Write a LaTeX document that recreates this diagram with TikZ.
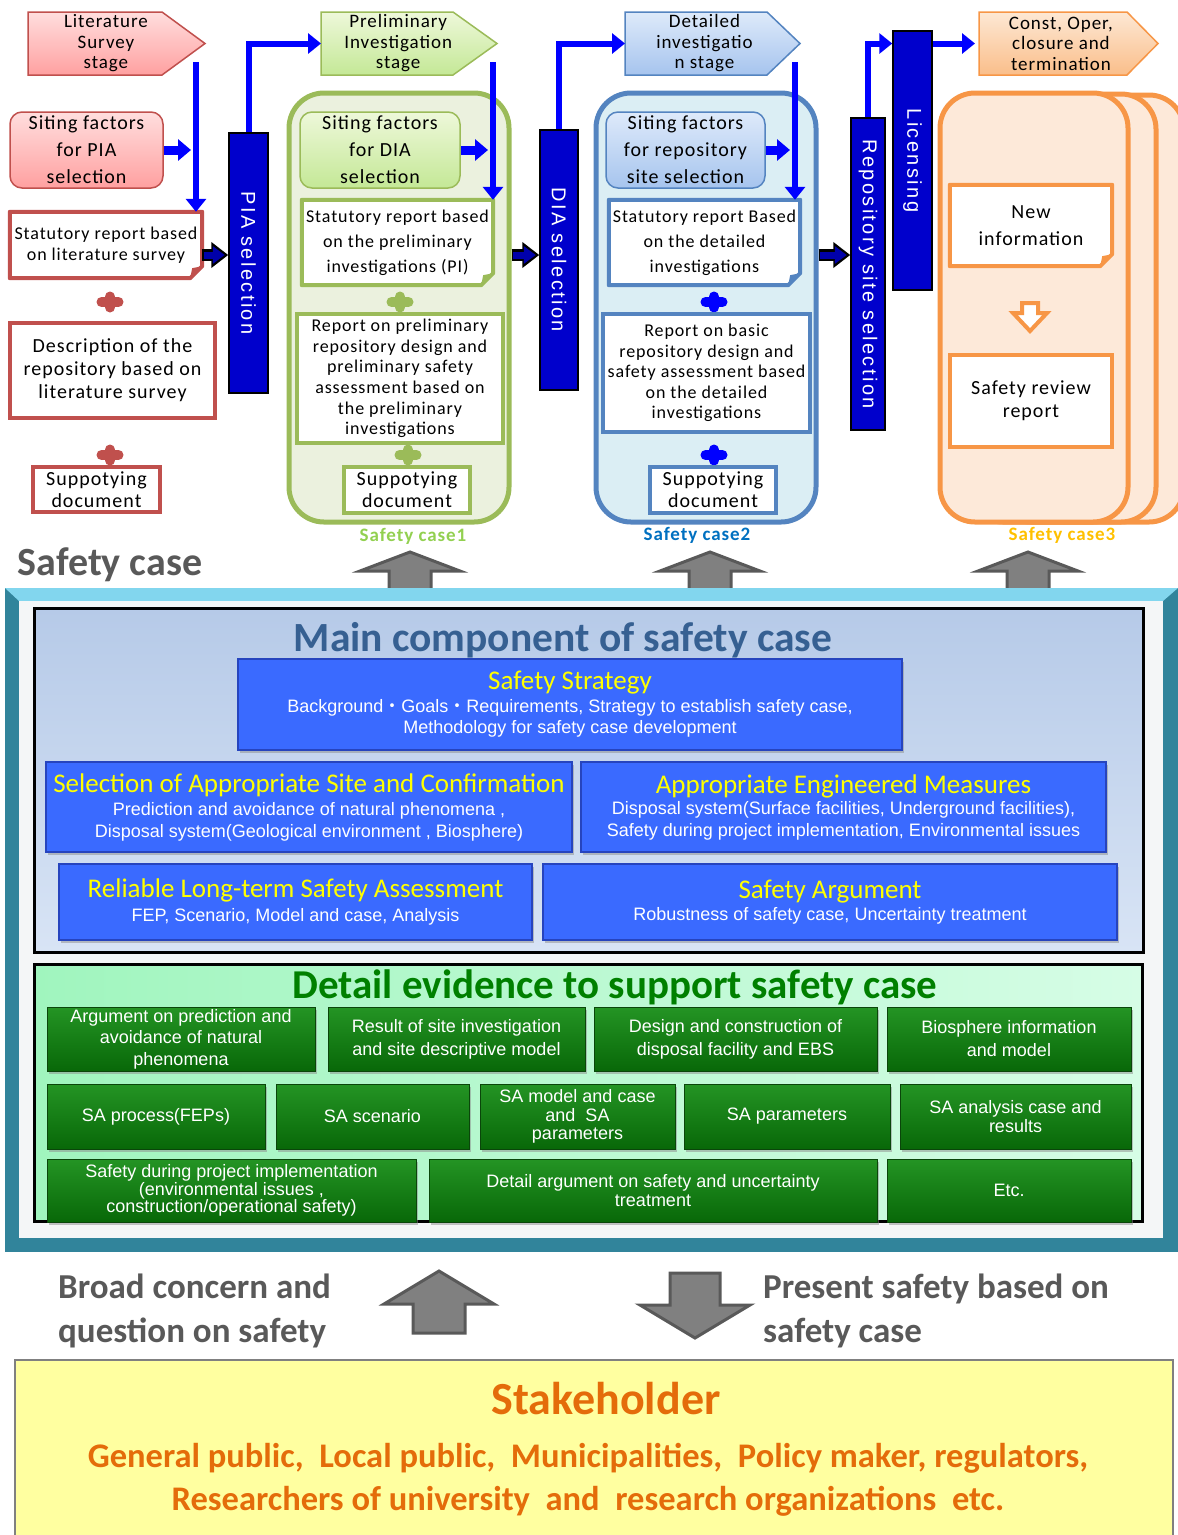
\documentclass[tikz,border=0pt]{standalone}
\usepackage{fontspec}
\usepackage{graphicx}
\setmainfont{Carlito}
\newfontfamily\boxfont{Carlito}[LetterSpace=5]
\newfontfamily\arialfont{Liberation Sans}
\newfontfamily\barfont{Liberation Sans}[LetterSpace=12]
\newfontfamily\cjkfont{Noto Sans CJK JP}
\usetikzlibrary{arrows.meta}
\usetikzlibrary{calc}
\usetikzlibrary{shadows}
\usetikzlibrary{positioning}
\tikzset{>=latex}

\definecolor{littop}{RGB}{255,222,222}
\definecolor{litbot}{RGB}{255,160,160}
\definecolor{litline}{RGB}{192,80,77}
\definecolor{pretop}{RGB}{238,248,218}
\definecolor{prebot}{RGB}{196,232,150}
\definecolor{dettop}{RGB}{222,234,250}
\definecolor{detbot}{RGB}{166,196,238}
\definecolor{constop}{RGB}{253,232,212}
\definecolor{consbot}{RGB}{250,190,138}
\definecolor{c1fill}{RGB}{235,241,222}
\definecolor{c1line}{RGB}{155,187,89}
\definecolor{c2fill}{RGB}{219,238,244}
\definecolor{c2line}{RGB}{84,132,192}
\definecolor{c3fill}{RGB}{253,233,217}
\definecolor{c3line}{RGB}{247,150,70}
\definecolor{c1text}{RGB}{146,208,80}
\definecolor{c2text}{RGB}{0,112,192}
\definecolor{c3text}{RGB}{255,192,0}
\definecolor{barblue}{RGB}{0,0,204}
\definecolor{navy}{RGB}{0,0,170}
\definecolor{arrgray}{RGB}{128,128,128}
\definecolor{arrdark}{RGB}{89,89,89}
\definecolor{sctext}{RGB}{89,89,89}
\definecolor{frameteal}{RGB}{49,132,155}
\definecolor{framecyan}{RGB}{130,214,238}
\definecolor{frameinner}{RGB}{244,246,247}
\definecolor{paneltop}{RGB}{182,202,232}
\definecolor{panelbot}{RGB}{216,228,245}
\definecolor{titleblue}{RGB}{54,96,146}
\definecolor{titleyellow}{RGB}{255,255,0}
\definecolor{compblue}{RGB}{58,106,255}
\definecolor{compedge}{RGB}{38,68,190}
\definecolor{evidleft}{RGB}{160,245,190}
\definecolor{evidright}{RGB}{214,253,230}
\definecolor{evidgreen}{RGB}{0,128,0}
\definecolor{evidtop}{RGB}{36,148,36}
\definecolor{evidbot}{RGB}{8,104,8}
\definecolor{evidedge}{RGB}{10,70,10}
\definecolor{stakefill}{RGB}{255,255,160}
\definecolor{stakeedge}{RGB}{128,128,128}
\definecolor{staketext}{RGB}{228,108,10}

\newcommand\fs[2]{\fontsize{#1}{#2}\selectfont}
\newcommand\ctitle[1]{{\rmfamily\color{titleyellow}\fs{27}{29}#1}}
\newcommand\middot{{\cjkfont ・}}

% name, x1, y1, x2, y2, style, text
\newcommand\boxat[7]{%
    \node (#1) [#6, minimum width={#4-#2}, minimum height={#5-#3}] at ({(#2+#4)/2},{(#3+#5)/2}) {#7};
}
% name, x1, y1, x2, y2, border, background, font, text
\newcommand\notebox[9]{%
    \boxat{#1}{#2}{#3}{#4}{#5}{notetext, fill=white, font=#8}{#9}
    \fill[#7] (#4+3,#5-13) -- (#4+3,#5+3) -- (#4-13,#5+3) -- cycle;
    \draw[#6, line width=4pt, line join=round] (#1.north west) -- (#1.north east) -- ([yshift=12pt]#1.south east) -- ([xshift=-12pt]#1.south east) -- (#1.south west) -- cycle;
    \fill[#6] ([yshift=12pt]#1.south east) -- ([xshift=-10pt,yshift=10pt]#1.south east) -- ([xshift=-12pt]#1.south east) -- cycle;
}
% name, left x, corner x, tip x, style, text
\newcommand\stagenode[6]{%
    \draw[#5] (#2,12) -- (#3,12) -- (#4,43.5) -- (#3,75) -- (#2,75) -- cycle;
    \node (#1) [stagetext, minimum width={(#3+#4-2*#2)/2}, minimum height=63, anchor=west] at (#2,43.5) {#6};
}
% name, x, y, colour
\newcommand\plusmark[4]{%
    \coordinate (#1) at (#2,#3);
    \draw[#4, line width=10pt, line cap=round] ([xshift=-8.5pt]#1) -- ([xshift=8.5pt]#1) ([yshift=-5.5pt]#1) -- ([yshift=5.5pt]#1);
}
% x, tip y, head y, end y, half head, half shaft
\newcommand\blockarrow[6]{%
    \filldraw[grayarrow] (#1,#2) -- (#1+#5,#3) -- (#1+#6,#3) -- (#1+#6,#4) -- (#1-#6,#4) -- (#1-#6,#3) -- (#1-#5,#3) -- cycle;
}

\tikzstyle{stagetext} = [inner sep=0pt, align=center, font=\boxfont\fs{19}{20.5}]
\tikzstyle{sitebox} = [rounded corners=12pt, line width=1.5pt, align=center, inner sep=0pt, font=\boxfont\fs{20}{27}]
\tikzstyle{docbox} = [fill=white, line width=4pt, align=center, inner sep=0pt, font=\boxfont\fs{20}{23}]
\tikzstyle{notetext} = [align=center, inner sep=0pt]
\tikzstyle{casebox} = [rounded corners=35pt, line width=5pt]
\tikzstyle{caselabel} = [font=\boxfont\bfseries\fs{19}{22}]
\tikzstyle{selbar} = [fill=barblue, draw=black, line width=1.5pt, inner sep=0pt, text=white, font=\barfont\fs{20}{24}]
\tikzstyle{flowline} = [draw=blue, line width=6pt, -{Triangle[length=13pt,width=20pt]}]
\tikzstyle{sitearrow} = [draw=blue, line width=9pt, shorten >=5pt, -{Triangle[length=13pt,width=21pt]}]
\tikzstyle{navyarrow} = [draw=black, line width=12pt, -{Triangle[length=17pt,width=25pt]}, postaction={draw=navy, line width=7pt, shorten >=3.5pt, shorten <=1.5pt, -{Triangle[length=12pt,width=17pt]}}]
\tikzstyle{grayarrow} = [fill=arrgray, draw=arrdark, line width=3pt]
\tikzstyle{litshade} = [top color=littop, bottom color=litbot, draw=litline, line width=1.5pt]
\tikzstyle{preshade} = [top color=pretop, bottom color=prebot, draw=c1line, line width=1.5pt]
\tikzstyle{detshade} = [top color=dettop, bottom color=detbot, draw=c2line, line width=1.5pt]
\tikzstyle{consshade} = [top color=constop, bottom color=consbot, draw=c3line, line width=1.5pt]
\tikzstyle{panel} = [draw=black, line width=3pt]
\tikzstyle{compbox} = [fill=compblue, draw=compedge, line width=1.5pt, drop shadow={shadow xshift=2pt, shadow yshift=-3pt, fill=black!45}, align=center, inner sep=0pt, text=white, font=\arialfont\fs{18}{21.5}]
\tikzstyle{evidbox} = [top color=evidtop, bottom color=evidbot, draw=evidedge, line width=1pt, drop shadow={shadow xshift=2pt, shadow yshift=-3pt, fill=black!45}, align=center, inner sep=0pt, text=white, font=\arialfont\fs{18}{21.5}]
\tikzstyle{bigtitle} = [font=\bfseries\fs{40}{42}]
\tikzstyle{sidetext} = [font=\bfseries\fs{35}{44}, text=sctext, align=left, anchor=west, inner sep=0pt]
\tikzstyle{stakeline} = [font=\bfseries\fs{34.5}{36}, text=staketext]

\begin{document}
\begin{tikzpicture}[x=1pt, y=-1pt]
    \useasboundingbox (0,0) rectangle (1178,1535);
    \coordinate (navyrow) at (0,255);

    % literature survey stage
    \stagenode{litstage}{28}{162}{205}{litshade}{Literature\\Survey\\stage}
    \boxat{litsite}{10}{112}{163}{188}{sitebox, litshade}{Siting factors\\for PIA\\selection}
    \notebox{litstat}{10}{212}{202}{278}{litline}{white}{\boxfont\fs{18}{21}}{Statutory report based\\on literature survey}
    \plusmark{litplus1}{110}{302}{litline}
    \boxat{litdesc}{10}{323}{215}{418}{docbox, draw=litline}{Description of the\\repository based on\\literature survey}
    \plusmark{litplus2}{110}{455}{litline}
    \boxat{litsup}{33}{467}{160}{512}{docbox, draw=litline, font=\boxfont\fs{20}{22}}{Suppotying\\document}
    \node (sctitle) [bigtitle, text=sctext] at (110,565) {Safety case};

    \boxat{pia}{229}{133}{268}{393}{selbar}{\rotatebox{-90}{PIA selection}}
    \coordinate (litdrop) at (196,62);
    \draw[flowline] (litdrop) -- (litdrop |- litstat.north);
    \draw[sitearrow] (litsite.east) -- (litsite.east -| litdrop);
    \draw[navyarrow] (litstat.east |- navyrow) -- (pia.west |- navyrow);

    % safety case 1
    \boxat{case1}{289}{93}{509}{522}{casebox, fill=c1fill, draw=c1line}{}
    \stagenode{prestage}{321}{453}{497}{preshade}{Preliminary\\Investigation\\stage}
    \boxat{presite}{300}{112}{460}{188}{sitebox, preshade}{Siting factors\\for DIA\\selection}
    \notebox{prestat}{302}{200}{493}{285}{c1line}{c1fill}{\boxfont\fs{18}{25}}{Statutory report based\\on the preliminary\\investigations (PI)}
    \plusmark{preplus1}{400}{302}{c1line}
    \boxat{prerep}{297}{314}{503}{443}{docbox, draw=c1line, font=\boxfont\fs{18}{20.6}}{Report on preliminary\\repository design and\\preliminary safety\\assessment based on\\the preliminary\\investigations}
    \plusmark{preplus2}{408}{455}{c1line}
    \boxat{presup}{344}{467}{470}{513}{docbox, draw=c1line, font=\boxfont\fs{20}{22}}{Suppotying\\document}
    \node (c1label) [caselabel, text=c1text] at (413,536) {Safety case1};
    \draw[flowline] (pia.north) |- (prestage.west);
    \coordinate (predrop) at (493,62);
    \draw[flowline] (predrop) -- (predrop |- prestat.north);
    \draw[sitearrow] (presite.east) -- (presite.east -| predrop);

    \boxat{dia}{540}{130}{578}{390}{selbar}{\rotatebox{-90}{DIA selection}}
    \draw[navyarrow] (case1.east |- navyrow) -- (dia.west |- navyrow);

    % safety case 2
    \boxat{case2}{596}{93}{816}{522}{casebox, fill=c2fill, draw=c2line}{}
    \stagenode{detstage}{625}{767}{800}{detshade}{Detailed\\investigatio\\n stage}
    \boxat{detsite}{606}{112}{765}{188}{sitebox, detshade}{Siting factors\\for repository\\site selection}
    \notebox{detstat}{609}{200}{800}{285}{c2line}{c2fill}{\boxfont\fs{18}{25}}{Statutory report Based\\on the detailed\\investigations}
    \plusmark{detplus1}{714}{302}{blue}
    \boxat{detrep}{603}{314}{810}{432}{docbox, draw=c2line, font=\boxfont\fs{18}{20.6}}{Report on basic\\repository design and\\safety assessment based\\on the detailed\\investigations}
    \plusmark{detplus2}{714}{455}{blue}
    \boxat{detsup}{650}{467}{776}{513}{docbox, draw=c2line, font=\boxfont\fs{20}{22}}{Suppotying\\document}
    \node (c2label) [caselabel, text=c2text] at (697,535) {Safety case2};
    \draw[flowline] (dia.north) |- (detstage.west);
    \coordinate (detdrop) at (795,62);
    \draw[flowline] (detdrop) -- (detdrop |- detstat.north);
    \draw[sitearrow] (detsite.east) -- (detsite.east -| detdrop);

    \boxat{repo}{851}{118}{885}{430}{selbar}{\rotatebox{-90}{Repository site selection}}
    \boxat{lic}{893}{31}{932}{290}{selbar}{\rotatebox{-90}{Licensing}}
    \draw[navyarrow] (case2.east |- navyrow) -- (repo.west |- navyrow);

    % safety case 3
    \stagenode{constage}{979}{1127}{1158}{consshade}{Const, Oper,\\closure and\\termination}
    \draw[flowline] (repo.north) |- (lic.west |- constage.west);
    \draw[flowline] (lic.east |- constage.west) -- ([xshift=-4pt]constage.west);
    \boxat{case3c}{996}{95}{1184}{522}{casebox, fill=c3fill, draw=c3line}{}
    \boxat{case3b}{968}{94}{1156}{522}{casebox, fill=c3fill, draw=c3line}{}
    \boxat{case3}{940}{93}{1128}{522}{casebox, fill=c3fill, draw=c3line}{}
    \notebox{newinfo}{950}{185}{1112}{266}{c3line}{c3fill}{\boxfont\fs{20}{27}}{New\\information}
    \filldraw[fill=white, draw=c3line, line width=4pt] (1022,303) -- (1038,303) -- (1038,313) -- (1047,313) -- (1030,331) -- (1013,313) -- (1022,313) -- cycle;
    \boxat{review}{950}{355}{1112}{447}{docbox, draw=c3line, font=\boxfont\fs{20}{23}}{Safety review\\report}
    \node (c3label) [caselabel, text=c3text] at (1062,535) {Safety case3};

    \foreach \x in {410,710,1028} {
        \blockarrow{\x}{552}{571}{592}{50}{21}
    }

    % frame
    \fill[frameteal] (5,588) rectangle (1178,1252);
    \fill[framecyan] (5,588) -- (1178,588) -- (1163,601) -- (19,601) -- cycle;
    \fill[frameinner] (19,601) rectangle (1163,1238);

    % main component
    \boxat{mainpanel}{34}{608}{1143}{952}{panel, top color=paneltop, bottom color=panelbot}{}
    \node (maintitle) [bigtitle, font=\bfseries\fs{41.5}{44}, text=titleblue] at (563,640) {Main component of safety case};
    \boxat{strategy}{238}{659}{902}{750}{compbox}{\ctitle{Safety Strategy}\\[1pt]Background\middot Goals\middot Requirements, Strategy to establish safety case,\\Methodology for safety case development}
    \boxat{siteconf}{46}{762}{572}{852}{compbox}{\ctitle{Selection of Appropriate Site and Confirmation}\\[2pt]Prediction and avoidance of natural phenomena ,\\Disposal system(Geological environment , Biosphere)}
    \boxat{engmeas}{581}{762}{1106}{852}{compbox}{\ctitle{Appropriate Engineered Measures}\\[0pt]Disposal system(Surface facilities, Underground facilities),\\Safety during project implementation, Environmental issues}
    \boxat{ltsa}{59}{864}{532}{940}{compbox}{\ctitle{Reliable Long-term Safety Assessment}\\[2pt]FEP, Scenario, Model and case, Analysis}
    \boxat{argument}{543}{864}{1117}{940}{compbox}{\ctitle{Safety Argument}\\[0pt]Robustness of safety case, Uncertainty treatment}

    % detail evidence
    \boxat{evidpanel}{34}{964}{1142}{1221}{panel, left color=evidleft, right color=evidright}{}
    \node (evidtitle) [bigtitle, font=\bfseries\fs{41}{44}, text=evidgreen] at (615,987) {Detail evidence to support safety case};
    \boxat{ev1}{47}{1007}{315}{1071}{evidbox}{Argument on prediction and\\avoidance of natural\\phenomena}
    \boxat{ev2}{328}{1007}{585}{1071}{evidbox, font=\arialfont\fs{18}{23}}{Result of site investigation\\and site descriptive model}
    \boxat{ev3}{594}{1007}{877}{1071}{evidbox, font=\arialfont\fs{18}{23}}{Design and construction of\\disposal facility and EBS}
    \boxat{ev4}{887}{1007}{1131}{1071}{evidbox, font=\arialfont\fs{18}{23}}{Biosphere information\\and model}
    \boxat{ev5}{47}{1084}{265}{1149}{evidbox}{SA process(FEPs)}
    \boxat{ev6}{276}{1084}{469}{1149}{evidbox}{SA scenario}
    \boxat{ev7}{480}{1084}{675}{1149}{evidbox, font=\arialfont\fs{18}{18.5}}{SA model and case\\and \ SA\\parameters}
    \boxat{ev8}{684}{1084}{890}{1149}{evidbox}{SA parameters}
    \boxat{ev9}{900}{1084}{1131}{1149}{evidbox, font=\arialfont\fs{18}{19}}{SA analysis case and\\results}
    \boxat{ev10}{47}{1159}{416}{1222}{evidbox, font=\arialfont\fs{18}{16.5}}{Safety during project implementation\\(environmental issues ,\\construction/operational safety)}
    \boxat{ev11}{429}{1159}{877}{1222}{evidbox, font=\arialfont\fs{18}{19}}{Detail argument on safety and uncertainty\\treatment}
    \boxat{ev12}{887}{1159}{1131}{1222}{evidbox}{Etc.}

    % stakeholder
    \node (concern) [sidetext] at (58,1311) {Broad concern and\\question on safety};
    \blockarrow{439}{1271}{1304}{1333}{55}{26}
    \blockarrow{695}{1338}{1305}{1273}{55}{25}
    \node (present) [sidetext] at (763,1311) {Present safety based on\\safety case};
    \boxat{stake}{15}{1360}{1173}{1550}{fill=stakefill, draw=stakeedge, line width=2pt}{}
    \node (staketitle) [font=\bfseries\fs{46}{48}, text=staketext] at (606,1399) {Stakeholder};
    \node (stakelist1) [stakeline] at (588,1458) {General public, \ Local public, \ Municipalities, \ Policy maker, regulators,};
    \node (stakelist2) [stakeline] at (588,1501) {Researchers of university \ and \ research organizations \ etc.};
\end{tikzpicture}
\end{document}
